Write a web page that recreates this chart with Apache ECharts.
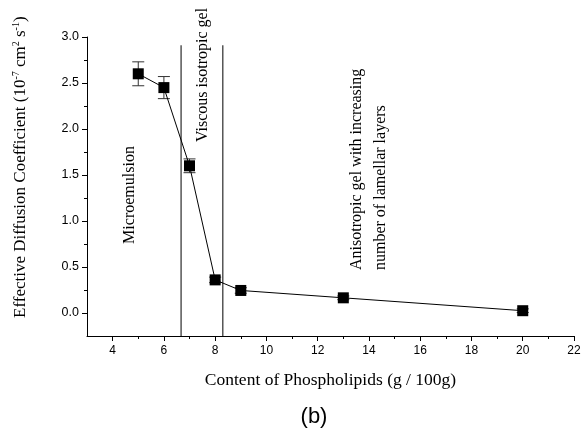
<!DOCTYPE html>
<html><head><meta charset="utf-8">
<script src="https://cdn.jsdelivr.net/npm/echarts@6/dist/echarts.min.js"></script>
<style>html,body{margin:0;padding:0;background:#fff}#c{width:584px;height:432px}</style>
</head><body><div id="c"></div>
<script>
const xValues = [5, 6, 7, 8, 9, 13, 20];
const yValues = [2.60, 2.45, 1.60, 0.36, 0.245, 0.165, 0.025];
const yErrors = [0.13, 0.12, 0.075, 0.03, 0.03, 0.02, 0.02];
const phaseBoundaries = [6.67, 8.3];
const boundaryTop = 2.91;
const xMajorTicks = [4, 6, 8, 10, 12, 14, 16, 18, 20, 22];
const xMinorTicks = [5, 7, 9, 11, 13, 15, 17, 19, 21];
const yMajorTicks = [0, 0.5, 1.0, 1.5, 2.0, 2.5, 3.0];
const yMinorTicks = [0.25, 0.75, 1.25, 1.75, 2.25, 2.75];
const xMin = 3, xMax = 22, yMin = -0.25, yMax = 3.0;

const serif = '"Liberation Serif", "Times New Roman", serif';
const sans = '"Liberation Sans", Arial, sans-serif';
const chart = echarts.init(document.getElementById('c'), null, {renderer: 'canvas'});

const points = xValues.map((x, i) => [x, yValues[i], yErrors[i]]);

chart.setOption({
  animation: false,
  backgroundColor: '#fff',
  grid: {left: 87, right: 10, top: 37, bottom: 96, containLabel: false},
  xAxis: [{
    type: 'value', min: xMin, max: xMax, position: 'bottom',
    splitLine: {show: false},
    axisLine: {onZero: false, lineStyle: {color: '#000', width: 1}},
    axisTick: {customValues: xMajorTicks, length: 5, lineStyle: {color: '#000'}},
    axisLabel: {customValues: xMajorTicks, color: '#000', fontFamily: sans, fontSize: 12, margin: 9,
      formatter: v => String(v)},
    name: 'Content of Phospholipids (g / 100g)', nameLocation: 'middle', nameGap: 35,
    nameTextStyle: {color: '#000', fontFamily: serif, fontSize: 17.5}
  }, {
    type: 'value', min: xMin, max: xMax, position: 'bottom',
    splitLine: {show: false}, axisLine: {show: false, onZero: false}, axisLabel: {show: false},
    axisTick: {customValues: xMinorTicks, length: 3, lineStyle: {color: '#000'}}
  }],
  yAxis: [{
    type: 'value', min: yMin, max: yMax, position: 'left',
    splitLine: {show: false},
    axisLine: {onZero: false, lineStyle: {color: '#000', width: 1}},
    axisTick: {customValues: yMajorTicks, length: 5, lineStyle: {color: '#000'}},
    axisLabel: {customValues: yMajorTicks, color: '#000', fontFamily: sans, fontSize: 12.5, margin: 8,
      formatter: v => v.toFixed(1)}
  }, {
    type: 'value', min: yMin, max: yMax, position: 'left',
    splitLine: {show: false}, axisLine: {show: false, onZero: false}, axisLabel: {show: false},
    axisTick: {customValues: yMinorTicks, length: 3, lineStyle: {color: '#000'}}
  }],
  series: [{
    type: 'custom', xAxisIndex: 0, yAxisIndex: 0, z: 1,
    data: phaseBoundaries.map(b => [b]),
    renderItem: (params, api) => {
      const p1 = api.coord([api.value(0), yMin]);
      const p2 = api.coord([api.value(0), boundaryTop]);
      return {type: 'line', shape: {x1: p1[0], y1: p1[1], x2: p2[0], y2: p2[1]},
        style: {stroke: '#000', lineWidth: 1}};
    }
  }, {
    type: 'custom', xAxisIndex: 0, yAxisIndex: 0, z: 2,
    data: points,
    renderItem: (params, api) => {
      const x = api.value(0), y = api.value(1), e = api.value(2);
      const top = api.coord([x, y + e]);
      const bot = api.coord([x, y - e]);
      const hw = 6;
      const st = {stroke: '#333', lineWidth: 1};
      return {type: 'group', children: [
        {type: 'line', shape: {x1: top[0], y1: top[1], x2: bot[0], y2: bot[1]}, style: st},
        {type: 'line', shape: {x1: top[0] - hw, y1: top[1], x2: top[0] + hw, y2: top[1]}, style: st},
        {type: 'line', shape: {x1: bot[0] - hw, y1: bot[1], x2: bot[0] + hw, y2: bot[1]}, style: st}
      ]};
    }
  }, {
    type: 'line', xAxisIndex: 0, yAxisIndex: 0, z: 3,
    data: points.map(p => [p[0], p[1]]),
    symbol: 'rect', symbolSize: 11,
    itemStyle: {color: '#000'},
    lineStyle: {color: '#000', width: 1}
  }],
  graphic: [
    {type: 'text', x: 21, y: 318, rotation: Math.PI / 2,
      style: {text: 'Effective Diffusion Coefficient (10{sup|-7} cm{sup|2} s{sup|-1})',
        fill: '#000', font: '17px ' + serif, align: 'left', verticalAlign: 'middle',
        rich: {sup: {fontSize: 10, fontFamily: serif, fill: '#000', verticalAlign: 'top', lineHeight: 20}}}},
    {type: 'text', x: 130, y: 195, rotation: Math.PI / 2,
      style: {text: 'Microemulsion', fill: '#000', font: '16px ' + serif, align: 'center', verticalAlign: 'middle'}},
    {type: 'text', x: 203, y: 142, rotation: Math.PI / 2,
      style: {text: 'Viscous isotropic gel', fill: '#000', font: '16px ' + serif, align: 'left', verticalAlign: 'middle'}},
    {type: 'text', x: 357, y: 270, rotation: Math.PI / 2,
      style: {text: 'Anisotropic gel with increasing', fill: '#000', font: '16px ' + serif, align: 'left', verticalAlign: 'middle'}},
    {type: 'text', x: 381, y: 270, rotation: Math.PI / 2,
      style: {text: 'number of lamellar layers', fill: '#000', font: '16px ' + serif, align: 'left', verticalAlign: 'middle'}},
    {type: 'text', x: 314, y: 417,
      style: {text: '(b)', fill: '#000', font: '22px ' + sans, align: 'center', verticalAlign: 'middle'}}
  ]
});
</script></body></html>
